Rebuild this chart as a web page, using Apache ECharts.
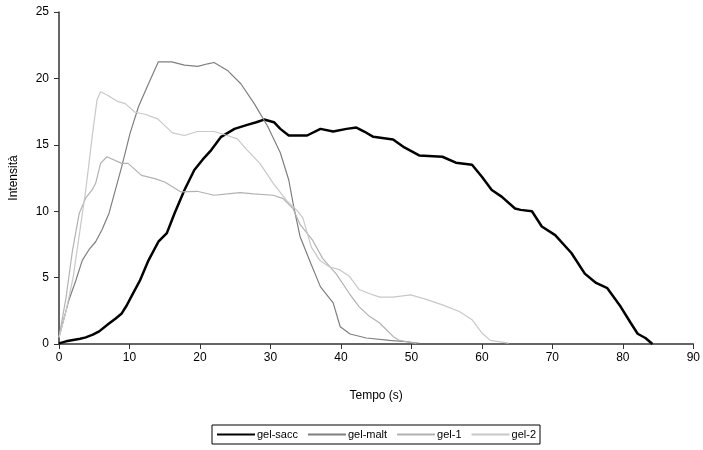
<!DOCTYPE html>
<html>
<head>
<meta charset="utf-8">
<script src="https://cdn.jsdelivr.net/npm/echarts@6/dist/echarts.min.js"></script>
<style>
  html, body { margin: 0; padding: 0; background: #fff; }
  #chart { width: 703px; height: 450px; }
</style>
</head>
<body>
<div id="chart"></div>
<script>
var seriesNames = ['gel-sacc', 'gel-malt', 'gel-1', 'gel-2'];

var gelSacc = [[0,0.05],[1,0.2],[2,0.3],[3,0.4],[3.8,0.5],[4.8,0.7],[5.7,0.95],[7,1.5],[8,1.9],[8.9,2.3],[9.6,2.9],[10.3,3.6],[11.5,4.8],[12.7,6.3],[14.1,7.7],[15.3,8.35],[16.4,9.85],[17.8,11.6],[19.2,13.1],[20.4,13.9],[21.6,14.6],[23,15.6],[24.9,16.2],[26.7,16.5],[28,16.7],[29.1,16.9],[30.5,16.7],[31.4,16.2],[32.6,15.7],[35.2,15.7],[37.1,16.2],[38.9,16.0],[40.8,16.2],[42.2,16.3],[43.3,16.0],[44.6,15.6],[47.4,15.4],[49,14.8],[51.1,14.2],[54.4,14.1],[56.3,13.65],[58.6,13.5],[60,12.6],[61.4,11.6],[62.8,11.1],[64.7,10.2],[65.5,10.1],[67.1,10.0],[68.5,8.85],[70.4,8.2],[72.7,6.85],[74.6,5.3],[76.2,4.6],[77.8,4.2],[79.7,2.8],[81.1,1.6],[82.1,0.77],[83.2,0.45],[84.2,0]];

var gelMalt = [[0,0.5],[1.4,3.3],[2.4,4.8],[3.3,6.3],[4.25,7.1],[5.2,7.7],[6.1,8.6],[7.1,9.85],[8,11.6],[8.9,13.35],[10.1,15.9],[11.3,17.9],[12.7,19.6],[14.1,21.25],[16,21.25],[17.8,21.0],[19.7,20.9],[21.1,21.1],[22,21.2],[23.9,20.6],[25.8,19.6],[27.7,18.1],[29.6,16.4],[31.4,14.4],[32.6,12.35],[33.3,10.35],[34.2,8.1],[35.7,6.1],[37.1,4.3],[38.9,3.1],[39.9,1.3],[41.3,0.75],[43.6,0.45],[46.9,0.27],[49.3,0.17],[51.1,0.05]];

var gel1 = [[0,0.5],[1,3.5],[1.9,7.0],[2.85,9.8],[3.8,11.0],[4.7,11.6],[5.2,12.1],[5.9,13.6],[6.8,14.1],[8.9,13.6],[9.8,13.6],[11.7,12.7],[13.6,12.45],[15,12.2],[17.3,11.45],[19.6,11.5],[22,11.2],[23.9,11.3],[25.7,11.4],[27.6,11.3],[30.4,11.2],[31.8,10.95],[33.2,10.2],[34.2,9.0],[36,7.8],[37.4,6.45],[39.3,5.3],[41.2,3.8],[42.6,2.8],[44,2.1],[45.5,1.58],[47.4,0.57],[48.3,0.27],[50.7,0.05]];

var gel2 = [[0,0.5],[1,2.5],[2,5.0],[2.85,8.1],[3.8,11.6],[4.7,15.6],[5.4,18.4],[5.9,19.0],[7,18.7],[8.4,18.25],[9.4,18.1],[10.8,17.45],[12.2,17.3],[14,16.95],[16.1,15.9],[17.8,15.7],[19.6,16.0],[22,16.0],[23.9,15.7],[25.3,15.45],[26.7,14.6],[28.5,13.6],[30.4,12.1],[32.3,10.8],[33.7,10.1],[34.6,9.5],[35.8,7.3],[37,6.3],[38.4,5.8],[39.8,5.6],[41.2,5.1],[42.6,4.1],[44,3.8],[45.5,3.53],[47.4,3.53],[49.9,3.7],[52,3.38],[54.4,2.95],[56.8,2.45],[58.6,1.83],[60,0.83],[61.2,0.27],[63.8,0.07]];

var chart = echarts.init(document.getElementById('chart'));

function make_series(name, data, color, width) {
    return {
        name: name,
        type: 'line',
        data: data,
        symbol: 'none',
        smooth: false,
        animation: false,
        lineStyle: { color: color, width: width },
        itemStyle: { color: color }
    };
}

var font = 'Liberation Sans, Arial, sans-serif';

chart.setOption({
    backgroundColor: '#fff',
    animation: false,
    grid: { left: 56, right: 7, top: 12, bottom: 106 },
    legend: {
        data: seriesNames,
        left: 212,
        top: 425,
        itemWidth: 38,
        itemHeight: 10,
        itemGap: 9,
        padding: [4, 4],
        borderColor: '#000',
        borderWidth: 1,
        itemStyle: { opacity: 0 },
        textStyle: { fontFamily: font, fontSize: 11, color: '#000', padding: [0, 0, 0, -3] }
    },
    xAxis: {
        type: 'value',
        min: 0,
        max: 90,
        interval: 10,
        name: 'Tempo (s)',
        nameLocation: 'middle',
        nameGap: 46,
        nameTextStyle: { fontFamily: font, fontSize: 12, color: '#000' },
        axisLine: { lineStyle: { color: '#333', width: 1.5 } },
        axisTick: { show: true, length: 5, lineStyle: { color: '#333' } },
        axisLabel: { fontFamily: font, fontSize: 12, color: '#000', margin: 8 },
        splitLine: { show: false }
    },
    yAxis: {
        type: 'value',
        min: 0,
        max: 25,
        interval: 5,
        name: 'Intensità',
        nameLocation: 'middle',
        nameGap: 39,
        nameTextStyle: { fontFamily: font, fontSize: 12, color: '#000' },
        axisLine: { show: true, lineStyle: { color: '#333', width: 1.5 } },
        axisTick: { show: true, length: 5, lineStyle: { color: '#333' } },
        axisLabel: { fontFamily: font, fontSize: 12, color: '#000', margin: 10 },
        splitLine: { show: false }
    },
    series: [
        make_series('gel-sacc', gelSacc, '#000000', 2.5),
        make_series('gel-malt', gelMalt, '#7f7f7f', 1.2),
        make_series('gel-1', gel1, '#b2b2b2', 1.2),
        make_series('gel-2', gel2, '#c8c8c8', 1.2)
    ]
});
</script>
</body>
</html>
